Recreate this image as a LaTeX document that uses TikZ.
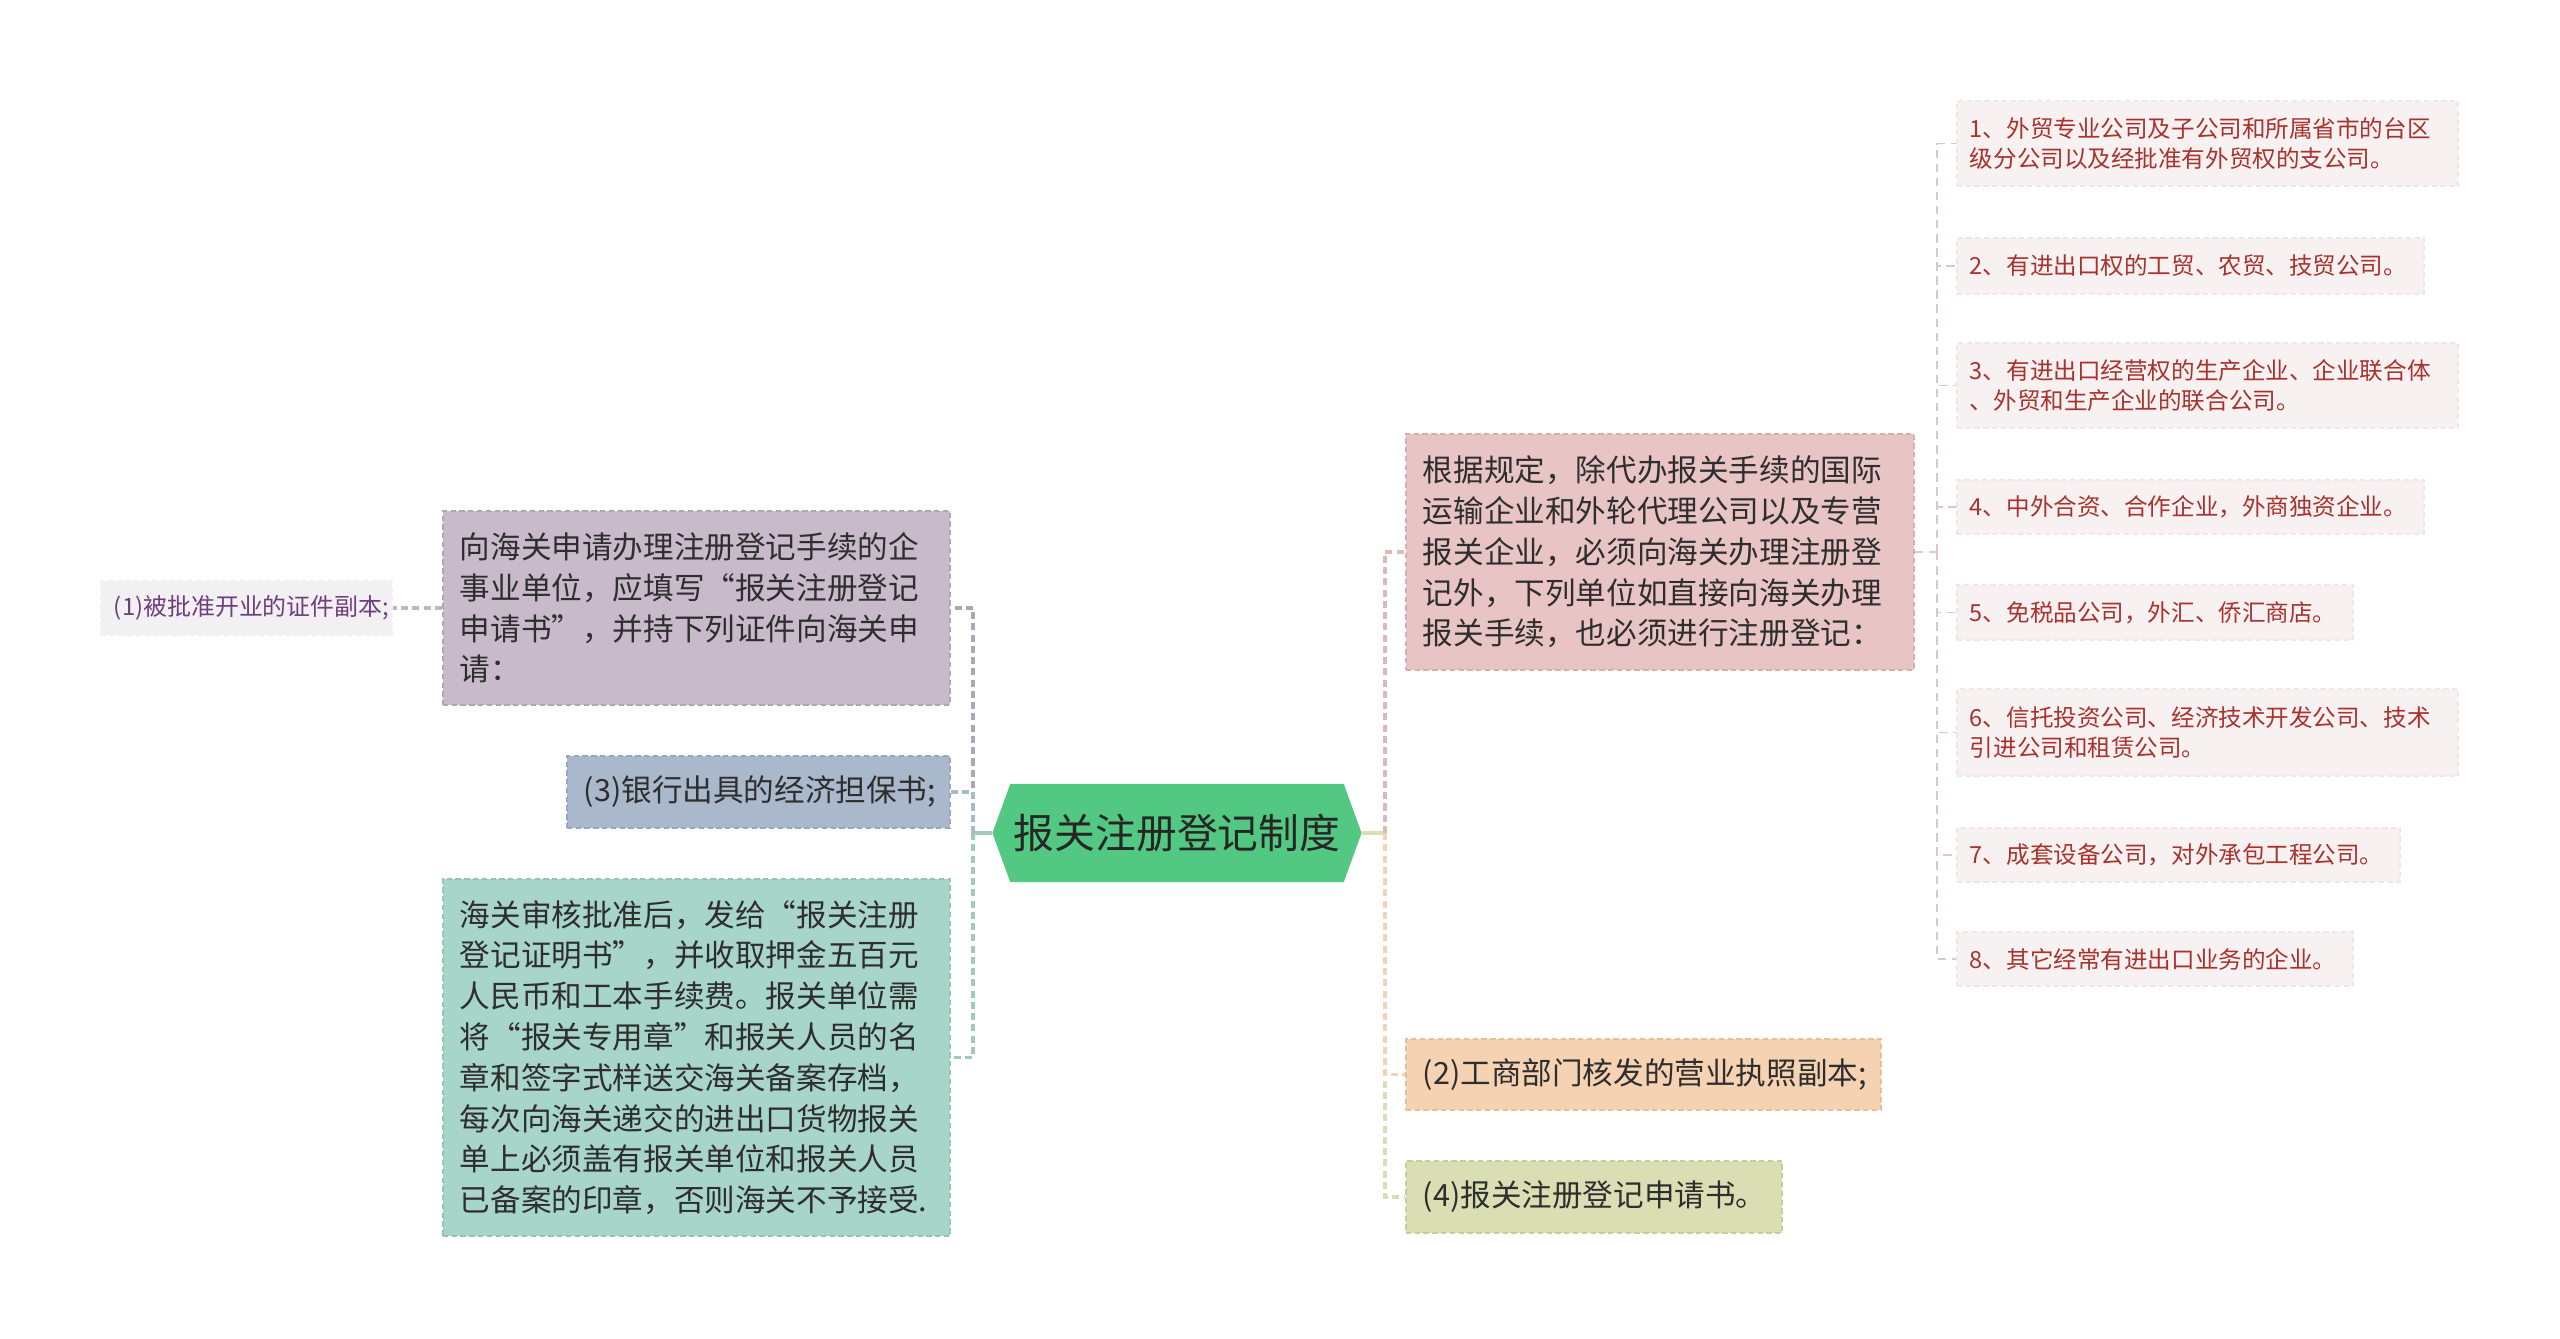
\documentclass[tikz,border=0pt]{standalone}
\usepackage{fontspec}
\setmainfont{Noto Sans CJK SC}
\usetikzlibrary{shapes.symbols}

\definecolor{rootgreen}{HTML}{52C883}
\definecolor{roottext}{HTML}{262626}
\definecolor{txtgray}{HTML}{2E2E2E}
\definecolor{purplefill}{HTML}{C8B9CB}
\definecolor{purpleedge}{HTML}{B3A3B7}
\definecolor{bluefill}{HTML}{A9B8CB}
\definecolor{blueedge}{HTML}{97A7BC}
\definecolor{tealfill}{HTML}{A8D5C9}
\definecolor{tealedge}{HTML}{93C4B7}
\definecolor{pinkfill}{HTML}{E9C4C5}
\definecolor{pinkedge}{HTML}{D7ADAF}
\definecolor{orangefill}{HTML}{F5D3B2}
\definecolor{orangeedge}{HTML}{E6BF9B}
\definecolor{olivefill}{HTML}{D9DFB2}
\definecolor{oliveedge}{HTML}{C6CE9B}
\definecolor{leaffill}{HTML}{F8F1F1}
\definecolor{leafedge}{HTML}{F1E6E6}
\definecolor{leafred}{HTML}{A8322D}
\definecolor{twiggray}{HTML}{DDC8C9}
\definecolor{onefill}{HTML}{F3F0F4}
\definecolor{onetext}{HTML}{6E3F7C}

\begin{document}
\begin{tikzpicture}[x=0.01cm,y=-0.01cm,
    box/.style={rectangle,draw,dash pattern=on 1.5pt off 1pt,line width=0.5pt,
      inner xsep=0.17cm,inner ysep=0pt,align=left,text=txtgray,
      font=\fontsize{8.7}{11.6}\selectfont},
    leaf/.style={box,fill=leaffill,draw=leafedge,text=leafred,inner xsep=0.13cm,
      font=\fontsize{6.7}{8.8}\selectfont},
    link/.style={line width=1.1pt,dash pattern=on 2pt off 1.2pt},
    stub/.style={line width=1.1pt},
    twig/.style={line width=0.5pt,dash pattern=on 2.4pt off 1.6pt,draw=twiggray}]
  \fill[white] (0,0) rectangle (2560,1338);
  \useasboundingbox (0,0) rectangle (2560,1338);

  % centre
  \node (root) [signal,signal to=west and east,signal pointer angle=140,fill=rootgreen,
    minimum width=3.69cm,minimum height=0.98cm,inner sep=0pt,text=roottext,
    font=\fontsize{11.6}{14}\selectfont] at (1177,833) {报关注册登记制度};

  % left branch
  \node (apply) [box,fill=purplefill,draw=purpleedge,text width=4.73cm,minimum height=1.94cm] at (696.5,608)
    {向海关申请办理注册登记手续的企\\事业单位，应填写“报关注册登记\\申请书”，并持下列证件向海关申\\请：};
  \node (one) [box,fill=onefill,draw=onefill,text=onetext,inner xsep=0.13cm,text width=2.65cm,minimum height=0.54cm,
    font=\fontsize{6.8}{8.8}\selectfont] at (246.5,608) {(1)被批准开业的证件副本;};
  \node (bank) [box,fill=bluefill,draw=blueedge,text width=3.49cm,minimum height=0.72cm] at (758.5,792)
    {(3)银行出具的经济担保书;};
  \node (approve) [box,fill=tealfill,draw=tealedge,text width=4.73cm,minimum height=3.57cm] at (696.5,1057.5)
    {海关审核批准后，发给“报关注册\\登记证明书”，并收取押金五百元\\人民币和工本手续费。报关单位需\\将“报关专用章”和报关人员的名\\章和签字式样送交海关备案存档，\\每次向海关递交的进出口货物报关\\单上必须盖有报关单位和报关人员\\已备案的印章，否则海关不予接受.};

  % right branch
  \node (rule) [box,fill=pinkfill,draw=pinkedge,text width=4.74cm,minimum height=2.36cm] at (1660,552)
    {根据规定，除代办报关手续的国际\\运输企业和外轮代理公司以及专营\\报关企业，必须向海关办理注册登\\记外，下列单位如直接向海关办理\\报关手续，也必须进行注册登记：};
  \node (licence) [box,fill=orangefill,draw=orangeedge,text width=4.41cm,minimum height=0.71cm] at (1643.5,1074.5)
    {(2)工商部门核发的营业执照副本;};
  \node (form) [box,fill=olivefill,draw=oliveedge,text width=3.42cm,minimum height=0.72cm] at (1594,1197)
    {(4)报关注册登记申请书。};

  % units that must register
  \node (leaf1) [leaf,text width=4.75cm,minimum height=0.85cm] at (2207.5,143.5)
    {1、外贸专业公司及子公司和所属省市的台区\\级分公司以及经批准有外贸权的支公司。};
  \node (leaf2) [leaf,text width=4.41cm,minimum height=0.56cm] at (2190.5,266)
    {2、有进出口权的工贸、农贸、技贸公司。};
  \node (leaf3) [leaf,text width=4.75cm,minimum height=0.85cm] at (2207.5,385.5)
    {3、有进出口经营权的生产企业、企业联合体\\、外贸和生产企业的联合公司。};
  \node (leaf4) [leaf,text width=4.41cm,minimum height=0.54cm] at (2190.5,507)
    {4、中外合资、合作企业，外商独资企业。};
  \node (leaf5) [leaf,text width=3.70cm,minimum height=0.55cm] at (2155,612.5)
    {5、免税品公司，外汇、侨汇商店。};
  \node (leaf6) [leaf,text width=4.75cm,minimum height=0.87cm] at (2207.5,732.5)
    {6、信托投资公司、经济技术开发公司、技术\\引进公司和租赁公司。};
  \node (leaf7) [leaf,text width=4.17cm,minimum height=0.54cm] at (2178.5,855)
    {7、成套设备公司，对外承包工程公司。};
  \node (leaf8) [leaf,text width=3.70cm,minimum height=0.54cm] at (2155,959)
    {8、其它经常有进出口业务的企业。};

  % connectors
  \coordinate (ljoin) at (973,833);
  \coordinate (rjoin) at (1385,833);
  \coordinate (pjoin) at (1937,552);
  \draw[stub,draw=tealfill!95!black] (root.west) -- (ljoin);
  \draw[stub,draw=olivefill] (root.east) -- (rjoin);
  \draw[link,draw=purpleedge] (ljoin) |- (apply.east);
  \draw[link,draw=bluefill] (ljoin) |- (bank.east);
  \draw[link,draw=tealfill!95!black] (ljoin) |- (approve.east);
  \draw[link,draw=purpleedge!80] (apply.west) -- (one.east);
  \draw[link,draw=olivefill] (rjoin) |- (form.west);
  \draw[link,draw=orangefill] (rjoin) |- (licence.west);
  \draw[link,draw=pinkedge!85] (rjoin) |- (rule.west);
  \draw[twig] (rule.east) -- (pjoin);
  \foreach \i in {1,...,8}
    \draw[twig] (pjoin) |- (leaf\i.west);
\end{tikzpicture}
\end{document}
